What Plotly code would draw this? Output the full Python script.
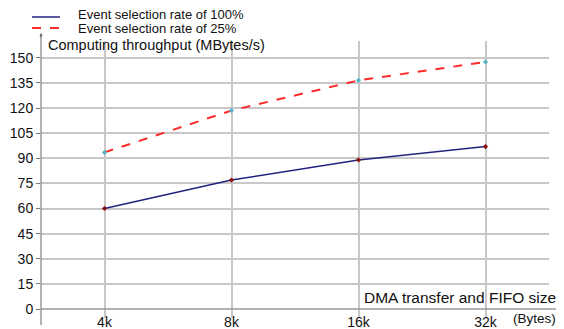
import plotly.graph_objects as go

sizes = ["4k", "8k", "16k", "32k"]
rate_100 = [60, 77, 89, 97]
rate_25 = [93.5, 118.5, 136.5, 147.5]
y_ticks = [0, 15, 30, 45, 60, 75, 90, 105, 120, 135, 150]
names = ["Event selection rate of 100%", "Event selection rate of 25%"]

font = "Liberation Sans, Arial, sans-serif"
blue = "#23237f"
red = "#ff2a2a"

fig = go.Figure()
fig.add_trace(go.Scatter(
    x=sizes, y=rate_100, mode="lines+markers", name=names[0], showlegend=False,
    line=dict(color=blue, width=1.5),
    marker=dict(color="#8b1010", size=4, symbol="diamond"),
))
fig.add_trace(go.Scatter(
    x=sizes, y=rate_25, mode="lines+markers", name=names[1], showlegend=False,
    line=dict(color=red, width=2, dash="dash"),
    marker=dict(color="#5ab4c8", size=4, symbol="diamond"),
))

# page body has an 8px default margin, so the figure is 8px smaller
fig.update_layout(
    width=556, height=321,
    margin=dict(l=33, r=15, t=33, b=20, autoexpand=False),
    paper_bgcolor="white", plot_bgcolor="white",
    font=dict(family=font, size=13, color="#111"),
    xaxis=dict(type="category", range=[-0.5, 3.5], showgrid=True,
               gridcolor="#c8c8c8", gridwidth=2, showline=False, zeroline=False,
               ticks="outside", ticklen=8, tickcolor="#c8c8c8", tickwidth=2,
               ticklabelstandoff=-8, tickfont=dict(size=14)),
    yaxis=dict(range=[0, 160], tickvals=y_ticks, showgrid=True,
               gridcolor="#c8c8c8", gridwidth=2, showline=False, zeroline=False,
               ticks="outside", ticklen=4, tickcolor="#777",
               tickfont=dict(size=14)),
    showlegend=False,
)

# manual legend (paper coordinates)
legend_rows = [(1.0896, 1.099, blue, "solid", 1.5), (1.0485, 1.045, red, "dash", 2)]
for (yl, yt, col, dash, w), nm in zip(legend_rows, names):
    fig.add_shape(type="line", xref="paper", yref="paper", x0=-0.0177, x1=0.0374,
                  y0=yl, y1=yl, line=dict(color=col, width=w, dash=dash))
    fig.add_annotation(xref="paper", yref="paper", x=0.07, y=yt, xanchor="left",
                       yanchor="middle", text=nm, showarrow=False, borderpad=0,
                       font=dict(size=13))

# axis lines
fig.add_shape(type="line", xref="paper", yref="paper", x0=0, x1=1.02, y0=0, y1=0,
              line=dict(color="#666", width=1))
fig.add_shape(type="line", xref="paper", yref="paper", x0=0, x1=0, y0=-0.06, y1=1.02,
              line=dict(color="#666", width=1))
# arrows
fig.add_annotation(xref="paper", yref="paper", x=1.025, y=0, ax=-6, ay=0,
                   showarrow=True, arrowhead=2, arrowsize=0.6, arrowwidth=1,
                   arrowcolor="#666", text="")
fig.add_annotation(xref="paper", yref="paper", x=0, y=1.03, ax=0, ay=6,
                   showarrow=True, arrowhead=2, arrowsize=0.6, arrowwidth=1,
                   arrowcolor="#666", text="")

fig.add_annotation(xref="paper", yref="paper", x=0.0118, y=0.984, xanchor="left",
                   yanchor="middle", text="Computing throughput (MBytes/s)",
                   showarrow=False, borderpad=0, font=dict(size=14.5))
fig.add_annotation(xref="paper", yref="paper", x=1.0177, y=0.0429, xanchor="right",
                   yanchor="middle", text="DMA transfer and FIFO size",
                   showarrow=False, font=dict(size=15.5))
fig.add_annotation(xref="paper", yref="paper", x=1.0177, y=-0.0373, xanchor="right",
                   yanchor="middle", text="(Bytes)",
                   showarrow=False, font=dict(size=13.5))

fig.write_html("out.html")
